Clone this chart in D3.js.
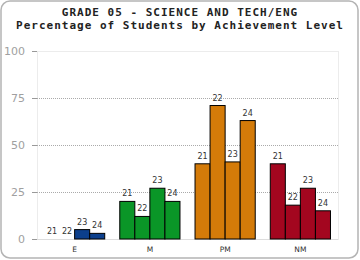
<!DOCTYPE html>
<html>
<head>
<meta charset="utf-8">
<script src="https://cdn.jsdelivr.net/npm/d3@7"></script>
<style>
  body { margin: 0; background: #fff; }
  svg { display: block; }
</style>
</head>
<body>
<div id="chart"></div>
<script>
// achievement levels and years
const levels = ["E", "M", "PM", "NM"];
const years = ["21", "22", "23", "24"];
const colors = ["#0c3f8c", "#0a9627", "#d47b09", "#a3061f"];
// percent of students, one array per level, in year order
const valuesE = [0, 0, 5, 3];
const valuesM = [20, 12, 27, 20];
const valuesPM = [40, 71, 41, 63];
const valuesNM = [40, 18, 27, 15];
const yTicks = [0, 25, 50, 75, 100];

const allValues = [valuesE, valuesM, valuesPM, valuesNM];
const data = [];
levels.forEach((lv, i) => {
    years.forEach((yr, j) => {
        data.push({ level: lv, year: yr, value: allValues[i][j], color: colors[i] });
    });
});

const W = 360, H = 260;
const plotL = 37, plotR = 338, plotT = 51, plotB = 239;

const svg = d3.select("#chart").append("svg")
    .attr("width", W)
    .attr("height", H);

// outer panel
svg.append("rect")
    .attr("x", 1).attr("y", 1)
    .attr("width", W - 3).attr("height", H - 3)
    .attr("rx", 9)
    .attr("fill", "#fff")
    .attr("stroke", "#b4b4b4")
    .attr("stroke-width", 1.5);

// title
const title = svg.append("g")
    .attr("font-family", "'DejaVu Sans Mono', monospace")
    .attr("font-weight", "bold")
    .attr("font-size", 11)
    .attr("letter-spacing", 1)
    .attr("fill", "#222")
    .attr("text-anchor", "middle");
title.append("text").attr("x", 180).attr("y", 16).text("GRADE 05 - SCIENCE AND TECH/ENG");
title.append("text").attr("x", 180).attr("y", 29).text("Percentage of Students by Achievement Level");

const x = d3.scaleBand().domain(levels).range([plotL, plotR]).paddingInner(0.2).paddingOuter(0.1);
const x1 = d3.scaleBand().domain(years).range([0, x.bandwidth()]);
const y = d3.scaleLinear().domain([0, 100]).range([plotB, plotT]);

// plot frame
svg.append("rect")
    .attr("x", plotL + 0.5).attr("y", plotT + 0.5)
    .attr("width", plotR - plotL).attr("height", plotB - plotT)
    .attr("fill", "none")
    .attr("stroke", "#ececec");

// gridlines
svg.append("g")
    .selectAll("line")
    .data(yTicks.filter(t => t > 0 && t < 100))
    .enter()
    .append("line")
    .attr("x1", plotL).attr("x2", plotR)
    .attr("y1", d => y(d) + 0.5).attr("y2", d => y(d) + 0.5)
    .attr("stroke", "#aaa")
    .attr("stroke-dasharray", "1,1");

// y axis
const yAxis = svg.append("g")
    .attr("transform", `translate(${plotL},0)`)
    .call(d3.axisLeft(y).tickValues(yTicks).tickSize(5).tickPadding(7));
yAxis.select(".domain").remove();
yAxis.selectAll(".tick line").attr("stroke", "#999");
yAxis.selectAll(".tick text")
    .attr("fill", "#a0a0a0")
    .attr("font-family", "Verdana, 'DejaVu Sans', sans-serif")
    .attr("font-size", 11);

// x axis line
svg.append("line")
    .attr("x1", plotL).attr("x2", plotR)
    .attr("y1", plotB + 0.5).attr("y2", plotB + 0.5)
    .attr("stroke", "#ddd");

// category labels
svg.append("g")
    .selectAll("text")
    .data(levels)
    .enter()
    .append("text")
    .attr("x", d => x(d) + x.bandwidth() / 2)
    .attr("y", 252)
    .attr("text-anchor", "middle")
    .attr("font-family", "'DejaVu Sans', sans-serif")
    .attr("font-size", 7.5)
    .attr("fill", "#333")
    .text(d => d);

// bars
svg.append("g")
    .selectAll("rect")
    .data(data.filter(d => d.value > 0))
    .enter()
    .append("rect")
    .attr("x", d => x(d.level) + x1(d.year))
    .attr("y", d => y(d.value))
    .attr("width", x1.bandwidth())
    .attr("height", d => y(0) - y(d.value))
    .attr("fill", d => d.color)
    .attr("stroke", "#000")
    .attr("stroke-width", 1);

// value labels (year)
svg.append("g")
    .selectAll("text")
    .data(data)
    .enter()
    .append("text")
    .attr("x", d => x(d.level) + x1(d.year) + x1.bandwidth() / 2)
    .attr("y", d => y(d.value) - 5)
    .attr("text-anchor", "middle")
    .attr("font-family", "'DejaVu Sans', sans-serif")
    .attr("font-size", 8)
    .attr("fill", "#333")
    .text(d => d.year);
</script>
</body>
</html>
